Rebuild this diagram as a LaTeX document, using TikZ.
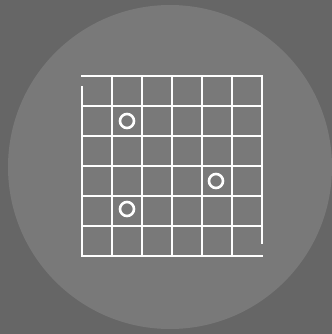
\documentclass[tikz,border=0pt]{standalone}
\definecolor{bggray}{RGB}{102,102,102}
\definecolor{discgray}{RGB}{121,121,121}
\begin{document}
\begin{tikzpicture}[x=0.5pt, y=-0.5pt, line width=1.2pt]
    % Hintergrund und Scheibe
    \fill[bggray] (0,0) rectangle (332,334);
    \fill[discgray] (170,167) circle (162);

    % Gitter (6x6), Ecken oben links und unten rechts offen
    \begin{scope}[white, line cap=rect]
        \foreach \x in {112,142,...,232}
            \draw (\x,76) -- (\x,256);
        \foreach \y in {106,136,...,226}
            \draw (82,\y) -- (262,\y);
        \draw (82,76) -- (262,76) -- (262,243);
        \draw (82,87) -- (82,256) -- (262,256);
    \end{scope}

    % Steine
    \draw[white, line width=1.3pt] (127,121) circle (7);
    \draw[white, line width=1.3pt] (216,181) circle (7);
    \draw[white, line width=1.3pt] (127,209) circle (7);
\end{tikzpicture}
\end{document}
